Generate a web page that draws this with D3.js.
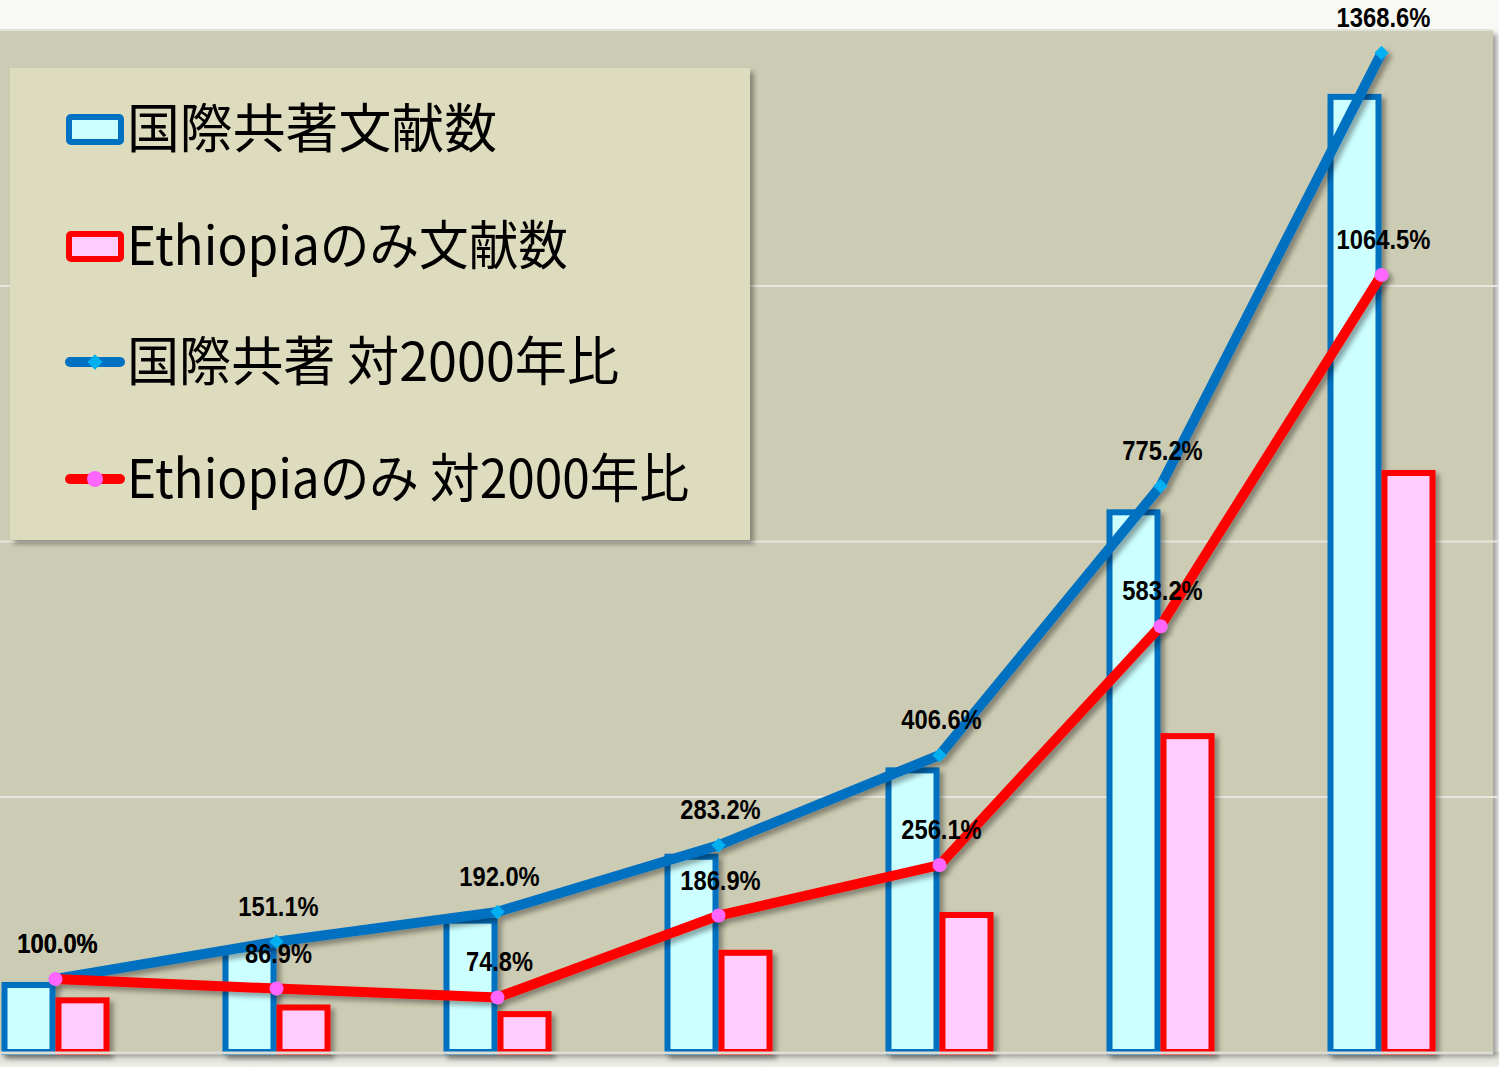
<!DOCTYPE html>
<html>
<head>
<meta charset="utf-8">
<script src="https://cdn.jsdelivr.net/npm/d3@7"></script>
<style>
  body { margin: 0; background: #f8f8f4; }
  svg { display: block; }
  .lbl { font-family: "Liberation Sans", "DejaVu Sans", sans-serif; font-weight: bold; font-size: 28px; fill: #000; }
  .leg { font-family: "Noto Sans CJK JP", sans-serif; font-size: 53px; fill: #000; }
</style>
</head>
<body>
<svg id="chart" width="1499" height="1067"></svg>
<script>
// years of the groups (the axis labels are cropped out in the picture)
var years = ["2000", "2003", "2006", "2009", "2012", "2015", "2018"];
// paper counts
var jointCount = [137, 207, 263, 388, 557, 1062, 1875];
var ethCount = [107, 93, 80, 200, 274, 624, 1139];
// ratio vs 2000 (%)
var jointPct = [100.0, 151.1, 192.0, 283.2, 406.6, 775.2, 1368.6];
var ethPct = [100.0, 86.9, 74.8, 186.9, 256.1, 583.2, 1064.5];
var legendNames = ["国際共著文献数", "Ethiopiaのみ文献数", "国際共著 対2000年比", "Ethiopiaのみ 対2000年比"];

var svg = d3.select("#chart");
var plot = { left: -55, right: 1492, top: 30, bottom: 1052 };

var defs = svg.append("defs");
var f = defs.append("filter").attr("id", "shadow")
    .attr("x", "-20%").attr("y", "-20%").attr("width", "140%").attr("height", "140%");
f.append("feDropShadow").attr("dx", 4).attr("dy", 4).attr("stdDeviation", 2.5)
    .attr("flood-color", "#000").attr("flood-opacity", 0.35);
var g2 = defs.append("linearGradient").attr("id", "floor").attr("x1", 0).attr("y1", 0).attr("x2", 0).attr("y2", 1);
g2.append("stop").attr("offset", 0).attr("stop-color", "#d8d8d0");
g2.append("stop").attr("offset", 1).attr("stop-color", "#efefea");

// background pieces
svg.append("rect").attr("x", 0).attr("y", 1052).attr("width", 1499).attr("height", 15).attr("fill", "url(#floor)");
svg.append("rect").attr("x", 0).attr("y", plot.top).attr("width", 1493).attr("height", plot.bottom - plot.top)
    .attr("fill", "#cccbb3").attr("filter", "url(#shadow)");
svg.append("line").attr("x1", 0).attr("x2", 1493).attr("y1", plot.top).attr("y2", plot.top)
    .attr("stroke", "#e2e2dc").attr("stroke-width", 2);

var x = d3.scaleBand().domain(years).range([plot.left, plot.right]);
var yCount = d3.scaleLinear().domain([0, 2000]).range([plot.bottom, plot.top]);
var yPct = d3.scaleLinear().domain([0, 1400]).range([plot.bottom, plot.top]);

// grid
svg.append("g")
    .call(d3.axisLeft(yCount).tickValues([500, 1000, 1500]).tickSize(-1600).tickFormat(""))
    .call(function(g) { g.select(".domain").remove(); })
    .selectAll("line").attr("stroke", "#e6e6e0").attr("stroke-width", 2);

var cx = function(i) { return x(years[i]) + x.bandwidth() / 2; };
var bw = 54, sw = 6;

var bars = svg.append("g").attr("filter", "url(#shadow)");
bars.selectAll(".jb").data(jointCount).enter().append("rect")
    .attr("x", function(d, i) { return cx(i) - bw + sw / 2; })
    .attr("y", function(d) { return yCount(d) + sw / 2; })
    .attr("width", bw - sw)
    .attr("height", function(d) { return yCount(0) - yCount(d) - sw / 2; })
    .attr("fill", "#ccffff").attr("stroke", "#0070c0").attr("stroke-width", sw);
bars.selectAll(".eb").data(ethCount).enter().append("rect")
    .attr("x", function(d, i) { return cx(i) + sw / 2; })
    .attr("y", function(d) { return yCount(d) + sw / 2; })
    .attr("width", bw - sw)
    .attr("height", function(d) { return yCount(0) - yCount(d) - sw / 2; })
    .attr("fill", "#ffccff").attr("stroke", "#ff0000").attr("stroke-width", sw);

svg.append("line").attr("x1", 0).attr("x2", 1493).attr("y1", plot.bottom + 1).attr("y2", plot.bottom + 1)
    .attr("stroke", "#dcdcd4").attr("stroke-width", 3);

var line = d3.line().x(function(d, i) { return cx(i); }).y(function(d) { return yPct(d); });

var lines = svg.append("g").attr("filter", "url(#shadow)");
lines.append("path").datum(jointPct).attr("d", line)
    .attr("fill", "none").attr("stroke", "#0070c0").attr("stroke-width", 10);
lines.selectAll(".jm").data(jointPct).enter().append("path")
    .attr("d", d3.symbol().type(d3.symbolDiamond2).size(130))
    .attr("transform", function(d, i) { return "translate(" + cx(i) + "," + yPct(d) + ")"; })
    .attr("fill", "#00b0f0");
lines.append("path").datum(ethPct).attr("d", line)
    .attr("fill", "none").attr("stroke", "#ff0000").attr("stroke-width", 10);
lines.selectAll(".em").data(ethPct).enter().append("circle")
    .attr("cx", function(d, i) { return cx(i); })
    .attr("cy", function(d) { return yPct(d); })
    .attr("r", 7).attr("fill", "#ff66ff");

// data labels (narrow bold face in the original)
var fmt = function(d) { return d.toFixed(1) + "%"; };
function addLabels(data) {
    svg.append("g").selectAll("text").data(data).enter().append("text")
        .attr("class", "lbl").attr("text-anchor", "middle")
        .attr("x", function(d, i) { return cx(i) + 2; })
        .attr("y", function(d) { return yPct(d) - 26; })
        .attr("textLength", function(d) { return fmt(d).length * 13.4; })
        .attr("lengthAdjust", "spacingAndGlyphs")
        .text(fmt);
}
addLabels(jointPct);
addLabels(ethPct);

// legend
var leg = svg.append("g");
leg.append("rect").attr("x", 10).attr("y", 68).attr("width", 740).attr("height", 472)
    .attr("fill", "#dedcbe").attr("filter", "url(#shadow)");
var rowY = [129, 246, 362, 479];
var legWidth = [370, 441, 492, 562];
leg.append("rect").attr("x", 69).attr("y", 117).attr("width", 52).attr("height", 25).attr("rx", 2)
    .attr("fill", "#ccffff").attr("stroke", "#0070c0").attr("stroke-width", 6);
leg.append("rect").attr("x", 69).attr("y", 234).attr("width", 52).attr("height", 25).attr("rx", 2)
    .attr("fill", "#ffccff").attr("stroke", "#ff0000").attr("stroke-width", 6);
leg.append("line").attr("x1", 70).attr("x2", 120).attr("y1", rowY[2]).attr("y2", rowY[2])
    .attr("stroke", "#0070c0").attr("stroke-width", 10).attr("stroke-linecap", "round");
leg.append("path").attr("d", d3.symbol().type(d3.symbolDiamond2).size(150))
    .attr("transform", "translate(95," + rowY[2] + ")").attr("fill", "#00b0f0");
leg.append("line").attr("x1", 70).attr("x2", 120).attr("y1", rowY[3]).attr("y2", rowY[3])
    .attr("stroke", "#ff0000").attr("stroke-width", 10).attr("stroke-linecap", "round");
leg.append("circle").attr("cx", 95).attr("cy", rowY[3]).attr("r", 8).attr("fill", "#ff66ff");
leg.selectAll("text.leg").data(legendNames).enter().append("text")
    .attr("class", "leg")
    .attr("x", 127)
    .attr("y", function(d, i) { return rowY[i] + 19; })
    .attr("textLength", function(d, i) { return legWidth[i]; })
    .attr("lengthAdjust", "spacingAndGlyphs")
    .text(function(d) { return d; });
</script>
</body>
</html>
